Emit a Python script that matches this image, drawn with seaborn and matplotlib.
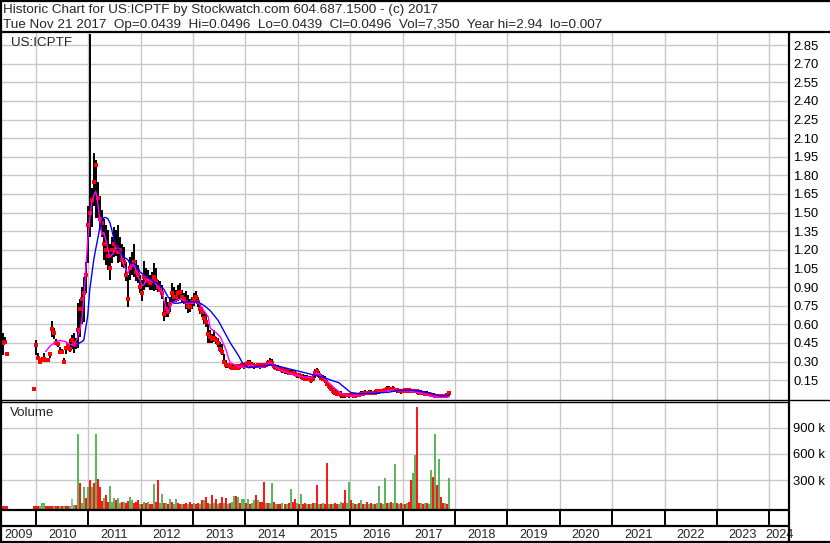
import numpy as np
import pandas as pd
import matplotlib
matplotlib.use("Agg")
import matplotlib.pyplot as plt
import matplotlib.dates as mdates
import seaborn as sns

nan = np.nan

# ---------------- data ----------------
bar_dates = pd.date_range(end="2017-11-21", periods=223, freq="14D")

high = [
    .53, .50, .37, nan, nan, nan, nan, nan, nan, nan,
    nan, nan, nan, nan, nan, .08, .47, .37, .32, .34,
    .37, .33, .32, .38, .63, .57, .48, .46, .42, .40,
    .33, .42, .45, .48, .51, .53, .49, .77, .80, .90,
    .98, 1.10, 1.55, 2.94, 1.70, 1.98, 1.92, 1.75, 1.63, 1.52,
    1.45, 1.40, 1.36, 1.25, 1.30, 1.38, 1.36, 1.40, 1.30, 1.25,
    1.22, 1.10, 1.00, 1.14, 1.18, 1.25, 1.12, 1.08, 1.00, .96,
    1.11, 1.05, 1.04, 1.00, 1.02, 1.09, 1.05, .96, .95, .92,
    .79, .82, .78, .82, .93, .90, .88, .92, .93, .88,
    .85, .87, .84, .80, .82, .85, .87, .82, .77, .74,
    .71, .68, .60, .55, .52, .55, .50, .49, .46, .44,
    .36, .31, .29, .28, .28, .27, .28, .27, .28, .29,
    .28, .30, .31, .31, .30, .29, .28, .29, .28, .29,
    .28, .29, .31, .33, .32, .28, .27, .27, .26, .25,
    .25, .24, .23, .23, .23, .22, .21, .21, .20, .20,
    .19, .19, .18, .18, .19, .24, .25, .22, .20, .19,
    .18, .15, .12, .11, .09, .08, .07, .06, .06, .05,
    .05, .05, .04, .05, .05, .04, .05, .05, .06, .06,
    .07, .06, .07, .07, .06, .07, .07, .07, .08, .08,
    .09, .10, .10, .09, .10, .09, .08, .08, .07, .08,
    .08, .08, .09, .08, .08, .07, .08, .07, .07, .06,
    .06, .06, .05, .05, .04, .04, .03, .03, .03, .03,
    .03, .04, .0496,
]
low = [
    .35, .44, .35, nan, nan, nan, nan, nan, nan, nan,
    nan, nan, nan, nan, nan, .08, .35, .31, .29, .30,
    .30, .30, .30, .33, .50, .48, .43, .42, .37, .36,
    .29, .36, .40, .38, .40, .37, .40, .41, .50, .60,
    .62, .85, 1.09, 1.30, 1.38, 1.55, 1.46, 1.46, 1.36, 1.30,
    1.12, 1.08, 1.04, .96, 1.09, 1.14, 1.15, 1.09, 1.10, 1.06,
    1.05, .95, .74, .96, 1.00, .98, .95, .93, .85, .79,
    .88, .90, .90, .88, .88, .87, .88, .86, .86, .80,
    .63, .66, .66, .70, .77, .78, .78, .79, .80, .78,
    .76, .72, .69, .70, .72, .75, .77, .74, .68, .66,
    .60, .58, .45, .45, .45, .46, .44, .42, .38, .35,
    .28, .25, .25, .24, .24, .24, .24, .24, .24, .25,
    .24, .25, .26, .25, .25, .24, .25, .25, .24, .25,
    .25, .26, .26, .27, .26, .24, .23, .22, .22, .21,
    .20, .20, .19, .19, .20, .18, .17, .17, .16, .15,
    .14, .15, .14, .13, .14, .17, .18, .17, .15, .14,
    .13, .10, .08, .07, .04, .03, .02, .02, .01, .01,
    .01, .02, .01, .02, .01, .01, .02, .02, .02, .03,
    .03, .03, .04, .04, .04, .04, .04, .04, .05, .05,
    .05, .06, .06, .06, .06, .06, .05, .05, .04, .05,
    .05, .05, .05, .05, .05, .05, .04, .04, .04, .03,
    .03, .03, .02, .02, .02, .01, .01, .01, .01, .01,
    .007, .01, .02,
]
close = [
    .45, .46, .36, nan, nan, nan, nan, nan, nan, nan,
    nan, nan, nan, nan, nan, .08, .43, .33, .30, .31,
    .32, .31, .31, .36, .56, .53, .45, .44, .38, .38,
    .30, .41, .43, .40, .47, .45, .43, .55, .72, .80,
    .85, 1.00, 1.40, 1.50, 1.60, 1.75, 1.88, 1.62, 1.45, 1.42,
    1.25, 1.20, 1.15, 1.05, 1.20, 1.25, 1.22, 1.18, 1.20, 1.12,
    1.10, 1.00, .80, 1.05, 1.08, 1.10, 1.02, 1.00, .90, .85,
    .98, .97, .95, .93, .95, .98, .95, .90, .88, .85,
    .68, .72, .70, .76, .85, .82, .82, .85, .86, .82,
    .80, .78, .75, .74, .78, .80, .82, .78, .72, .70,
    .65, .62, .52, .50, .48, .49, .47, .45, .40, .38,
    .30, .27, .27, .26, .25, .25, .26, .25, .26, .27,
    .26, .28, .29, .28, .27, .26, .26, .27, .26, .27,
    .26, .27, .29, .30, .29, .26, .25, .24, .24, .23,
    .22, .22, .21, .21, .21, .20, .19, .19, .18, .17,
    .16, .17, .16, .15, .16, .21, .22, .19, .17, .16,
    .15, .12, .10, .08, .06, .05, .04, .04, .03, .03,
    .03, .03, .03, .03, .03, .02, .03, .03, .04, .04,
    .05, .05, .05, .05, .05, .05, .06, .06, .06, .06,
    .07, .08, .08, .08, .08, .07, .07, .06, .06, .06,
    .07, .06, .07, .06, .06, .06, .06, .05, .05, .05,
    .04, .04, .04, .03, .03, .02, .02, .02, .02, .02,
    .02, .03, .0496,
]

# short moving average (magenta) – bar index and value
fast_ma_idx = [21, 23, 26, 28, 31, 33, 35,
               36, 37, 38, 39, 40, 41, 42, 43, 44, 45,
               46, 47, 48, 49, 50, 51, 52, 53, 54, 55,
               56, 57, 58, 59, 60, 61, 62, 63, 64, 65,
               66, 67, 68, 69, 70, 71, 72, 73,
               75, 77, 79, 81, 82, 84, 87, 89, 92, 94, 97, 99,
               102, 103, 106, 108, 111, 112, 113, 117, 120, 123, 128, 133,
               138, 143, 148, 153, 156, 158, 162, 165, 168, 173, 178, 183,
               188, 193, 198, 203, 208, 213, 218, 222]
fast_ma = [.38, .42, .46, .47, .46, .44, .43,
           .46, .50, .55, .63, .80, 1.04, 1.28, 1.46, 1.58, 1.64,
           1.67, 1.58, 1.44, 1.32, 1.34, 1.28, 1.21, 1.14, 1.16, 1.18,
           1.21, 1.22, 1.20, 1.13, 1.08, 1.04, 1.01, 1.05, 1.09, 1.08,
           1.04, .98, .96, .91, .92, .96, .96, .95,
           .94, .90, .86, .73, .70, .77, .80, .80, .77, .77, .78, .73,
           .66, .57, .53, .50, .39, .33, .29, .26, .25, .27, .25, .29,
           .23, .20, .18, .17, .21, .19, .13, .085, .045, .021, .029, .045,
           .053, .069, .069, .061, .045, .021, .01, .015]

# long moving average (blue)
slow_ma_idx = [36, 38, 40, 41, 42, 43, 44, 45, 46, 47, 48, 49, 50, 51, 52, 53,
               54, 55, 56, 57, 58,
               60, 62, 63, 65, 67, 68, 70, 72,
               75, 77, 80, 82, 85, 87, 90, 93,
               97, 100, 103, 107, 110, 113, 117, 119,
               122, 127, 132, 135, 140, 145, 150, 155,
               160, 163, 167, 170, 173, 178, 185, 192,
               197, 203, 208, 213, 218, 222]
slow_ma = [.42, .45, .47, .57, .67, .88, 1.00, 1.12, 1.21, 1.29, 1.38, 1.43, 1.46, 1.46, 1.45, 1.42,
           1.36, 1.29, 1.24, 1.21, 1.19,
           1.14, 1.12, 1.09, 1.09, 1.06, 1.02, 1.00, .98,
           .94, .93, .88, .82, .77, .77, .78, .78,
           .78, .75, .71, .63, .54, .45, .35, .29,
           .25, .26, .27, .27, .25, .23, .21, .19,
           .17, .15, .13, .09, .05, .04, .045, .053,
           .069, .069, .06, .045, .02, .03]

# volume in thousands of shares, and day direction (g = up, r = down, n = unchanged)
volume_k = [
    6, 5, 6, 0, 0, 0, 0, 0, 0, 0,
    0, 0, 0, 0, 0, 8, 12, 8, 6, 40,
    38, 6, 5, 8, 12, 6, 8, 5, 6, 8,
    10, 6, 5, 12, 90, 20, 15, 822, 272, 45,
    225, 95, 223, 303, 225, 270, 822, 315, 225, 70,
    95, 130, 60, 235, 50, 105, 75, 105, 40, 50,
    55, 40, 70, 115, 80, 40, 60, 75, 30, 35,
    55, 40, 60, 30, 35, 258, 60, 303, 40, 150,
    45, 45, 35, 90, 50, 30, 90, 45, 35, 30,
    30, 45, 35, 60, 35, 40, 30, 45, 35, 75,
    75, 107, 45, 30, 130, 40, 90, 35, 40, 110,
    40, 95, 30, 40, 60, 125, 125, 110, 40, 90,
    85, 45, 90, 35, 40, 75, 130, 80, 50, 60,
    280, 40, 45, 40, 270, 50, 35, 30, 35, 40,
    30, 35, 40, 200, 50, 90, 40, 35, 150, 30,
    45, 30, 35, 30, 40, 45, 245, 35, 30, 40,
    30, 500, 35, 30, 30, 40, 35, 30, 60, 40,
    190, 40, 280, 80, 45, 35, 30, 40, 80, 30,
    35, 60, 30, 40, 35, 30, 40, 234, 40, 35,
    326, 45, 40, 50, 45, 490, 40, 30, 45, 35,
    30, 40, 50, 303, 388, 590, 1138, 45, 40, 35,
    45, 40, 30, 420, 342, 822, 245, 545, 115, 40,
    45, 35, 326,
]
volume_dir = ("rrrrrrrrrr" "rrrrrrrrgg" "grrrrgrrgr" "grrgngrgrg" "grgrgrgrrr"
              "grrgggrggr" "grrggrrrgr" "grgrrgrrgg" "rgrgrggrrg" "rrgrrgrrgr"
              "grrgrgrgrr" "grgrggrgrg" "grgrggrgrr" "rgrggrgrrg" "rgrgrrgrgr"
              "rgrgrgrgrg" "rrgrgrrggr" "rggrgrgrgr" "grgrgrggrg" "grgrggrgrg"
              "rgrrggrrgr" "grggrgrgrr" "grg")

price_ticks = [0.15, 0.30, 0.45, 0.60, 0.75, 0.90, 1.05, 1.20, 1.35, 1.50,
               1.65, 1.80, 1.95, 2.10, 2.25, 2.40, 2.55, 2.70, 2.85]
volume_ticks = [300000, 600000, 900000]
volume_tick_labels = ["300 k", "600 k", "900 k"]
years = list(range(2009, 2025))

title_line1 = "Historic Chart for US:ICPTF by Stockwatch.com 604.687.1500 - (c) 2017"
title_line2 = ("Tue Nov 21 2017  Op=0.0439  Hi=0.0496  Lo=0.0439  Cl=0.0496  "
               "Vol=7,350  Year hi=2.94  lo=0.007")
symbol = "US:ICPTF"

# ---------------- figure ----------------
sns.set_theme(style="white")
plt.rcParams["font.family"] = ["Liberation Sans", "DejaVu Sans"]

W, H = 830, 543
fig = plt.figure(figsize=(W / 100, H / 100), dpi=100)
fig.patch.set_facecolor("white")


def box(x0, y0, x1, y1):
    return [x0 / W, 1 - y1 / H, (x1 - x0) / W, (y1 - y0) / H]


ax_p = fig.add_axes(box(2, 32, 789, 400))
ax_v = fig.add_axes(box(2, 402, 789, 509))
ax_s = fig.add_axes(box(2, 509, 789, 542))

xlim = (mdates.date2num(pd.Timestamp("2009-05-09")),
        mdates.date2num(pd.Timestamp("2024-05-18")))
year_starts = [mdates.date2num(pd.Timestamp(f"{y}-01-01")) for y in years[1:]]
grid_col = "#c8c8c8"

dnum = mdates.date2num(bar_dates.to_pydatetime())
high_a, low_a, close_a = np.array(high), np.array(low), np.array(close)
ok = ~np.isnan(high_a)

for ax in (ax_p, ax_v):
    ax.set_facecolor("white")
    ax.set_xlim(*xlim)
    ax.set_xticks(year_starts)
    ax.tick_params(axis="x", length=0, labelbottom=False)
    ax.yaxis.tick_right()
    ax.tick_params(axis="y", length=0, pad=3, labelsize=9.4, colors="black")
    ax.grid(True, color=grid_col, lw=1.0)
    ax.set_axisbelow(True)
    for s in ax.spines.values():
        s.set_visible(False)

# price panel
ax_p.set_ylim(-0.01, 2.955)
ax_p.set_yticks(price_ticks)
ax_p.set_yticklabels([f"{t:.2f}" for t in price_ticks])

ax_p.vlines(dnum[ok], low_a[ok], high_a[ok], color="black", lw=1.4, zorder=3)
sns.scatterplot(x=dnum[ok], y=close_a[ok], marker="s", s=7, color="#ff0000",
                linewidth=0, ax=ax_p, zorder=4)
sns.lineplot(x=dnum[fast_ma_idx], y=fast_ma, color="#ff00ff", lw=1.0,
             estimator=None, ax=ax_p, zorder=5)
sns.lineplot(x=dnum[slow_ma_idx], y=slow_ma, color="#0000ff", lw=1.0,
             estimator=None, ax=ax_p, zorder=6)
ax_p.set_xlim(*xlim)
ax_p.set_ylim(-0.01, 2.955)
ax_p.set_xlabel("")
ax_p.set_ylabel("")
ax_p.text(9 / 787, 1 - 11 / 368, symbol, transform=ax_p.transAxes,
          fontsize=9.6, va="center", ha="left")

# volume panel
vol = np.array(volume_k, dtype=float) * 1000
cmap = {"g": "#4cb04c", "r": "#ff0000", "n": "#a8a8a8"}
vcols = np.array([cmap[c] for c in volume_dir])
vmask = vol > 0
vbot = -25000
ax_v.set_ylim(vbot, 1190000)
ax_v.vlines(dnum[vmask], vbot, vol[vmask], colors=vcols[vmask], lw=1.3, zorder=3)
ax_v.set_xlim(*xlim)
ax_v.set_yticks(volume_ticks)
ax_v.set_yticklabels(volume_tick_labels)
ax_v.text(8 / 787, 1 - 11 / 107, "Volume", transform=ax_v.transAxes,
          fontsize=9.6, va="center", ha="left")

# year strip
ax_s.set_xlim(*xlim)
ax_s.set_ylim(0, 1)
ax_s.axis("off")
mid = (542 - 526) / 33
ax_s.vlines(year_starts, mid, 1, color="black", lw=1.4)
for y in years:
    a = max(mdates.date2num(pd.Timestamp(f"{y}-01-01")), xlim[0])
    b = min(mdates.date2num(pd.Timestamp(f"{y + 1}-01-01")), xlim[1])
    ax_s.text((a + b) / 2, mid / 2 - 0.03, str(y), ha="center", va="center",
              fontsize=9.2)

# frame lines (pixel overlay)
ov = fig.add_axes([0, 0, 1, 1], facecolor="none")
ov.set_xlim(0, W)
ov.set_ylim(H, 0)
ov.axis("off")
k = dict(color="black", solid_capstyle="butt")
ov.plot([0, W], [1, 1], lw=1.6, **k)
ov.plot([1, 1], [0, H], lw=1.6, **k)
ov.plot([0, W], [31.5, 31.5], lw=1.6, **k)
ov.plot([789, 789], [31, 542], lw=1.6, **k)
ov.plot([0, W], [400, 400], lw=1.0, **k)
ov.plot([0, 789], [402.3, 402.3], lw=1.0, **k)
ov.plot([0, 789], [509.5, 509.5], lw=1.6, **k)
ov.plot([0, 789], [526, 526], lw=1.6, **k)
ov.plot([0, W], [541.8, 541.8], lw=1.6, **k)

fig.text(3 / W, 1 - 10.5 / H, title_line1, fontsize=9.7, va="center", ha="left")
fig.text(3 / W, 1 - 25 / H, title_line2, fontsize=9.7, va="center", ha="left")

fig.savefig("out.png", dpi=100, facecolor="white")
